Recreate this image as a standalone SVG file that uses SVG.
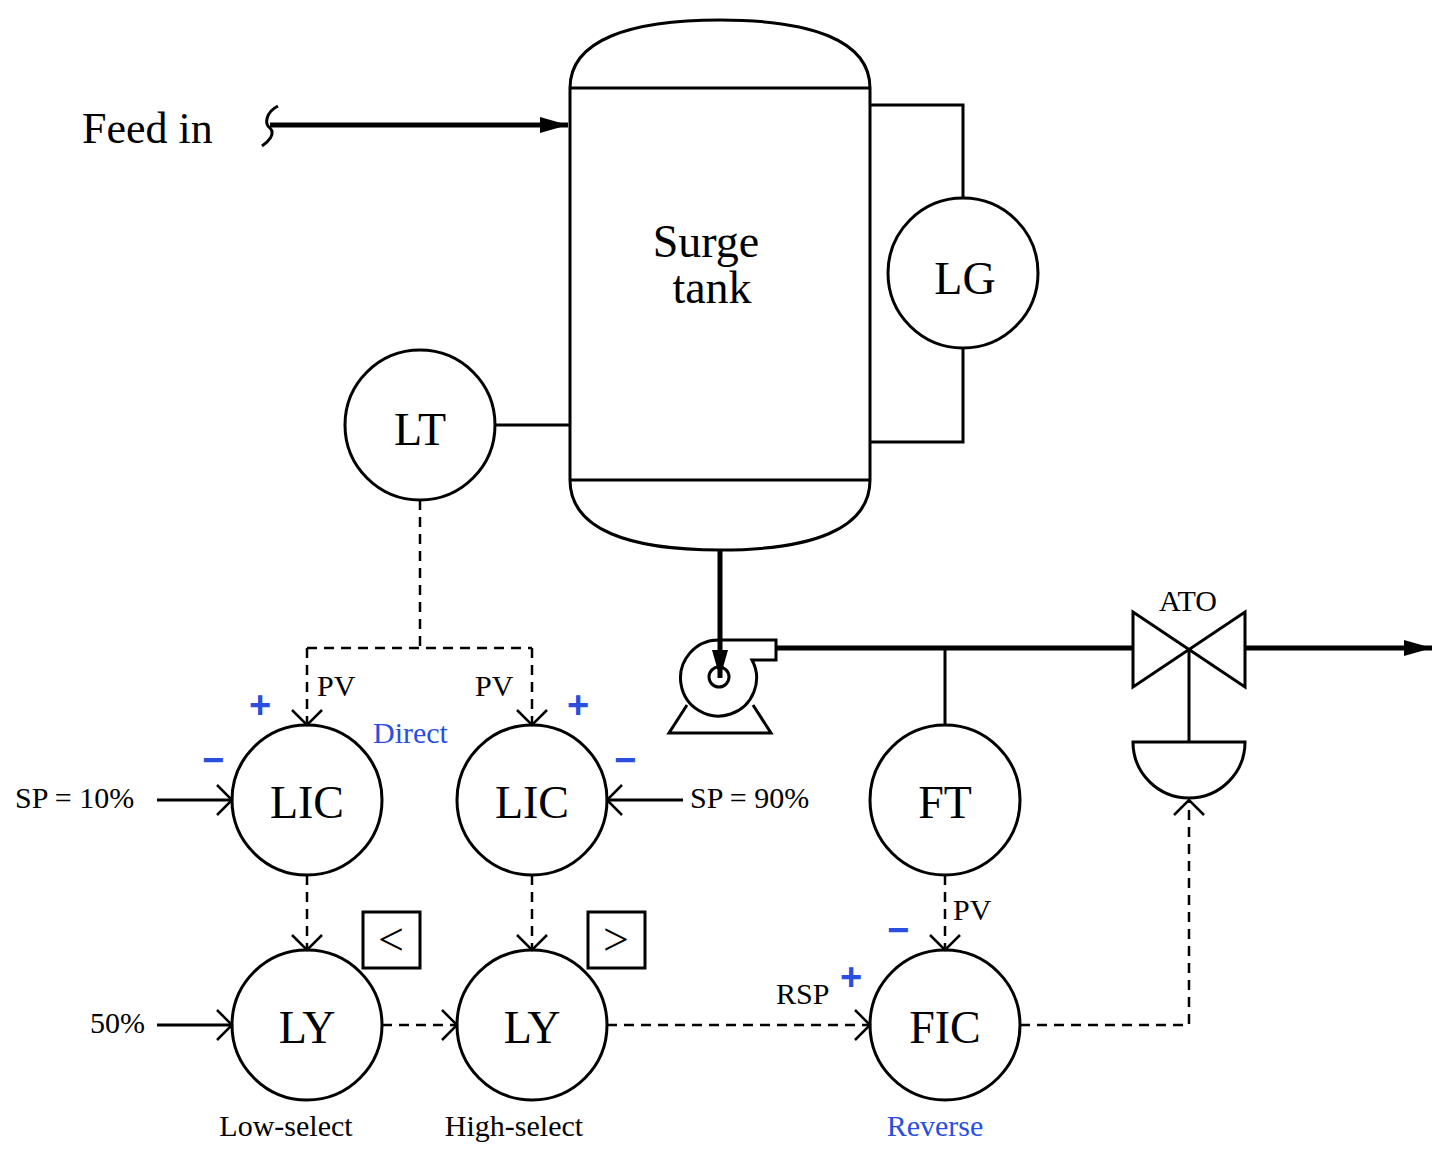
<svg xmlns="http://www.w3.org/2000/svg" width="1446" height="1158" viewBox="0 0 1446 1158">
<style>
text{font-family:"Liberation Serif",serif;fill:#000}
.c{fill:#fff;stroke:#000;stroke-width:3}
.l{fill:none;stroke:#000;stroke-width:3}
.t{fill:none;stroke:#000;stroke-width:5}
.d{fill:none;stroke:#000;stroke-width:2.5;stroke-dasharray:10,7}
.n{font-size:46px;text-anchor:middle}
.s{font-size:30px}
.b{fill:#2a4fe0}
.sg{fill:#2a4fe0;font-family:"Liberation Sans",sans-serif;font-weight:bold;font-size:38px;text-anchor:middle}
</style>
<defs>
<marker id="o" markerUnits="userSpaceOnUse" markerWidth="40" markerHeight="40" refX="20" refY="20" orient="auto" overflow="visible"><path d="M5,5 L20,20 L5,35" fill="none" stroke="#000" stroke-width="2.5"/></marker>
<marker id="f" markerUnits="userSpaceOnUse" markerWidth="40" markerHeight="40" refX="30" refY="20" orient="auto" overflow="visible"><path d="M2,12 L30,20 L2,28 Z" fill="#000"/></marker>
</defs>
<g id="feed"><text x="82" y="143" font-size="44">Feed in</text><path class="l" d="M278,106 C266,112 264,124 270,128 C276,134 268,142 262,146"/></g>
<g id="tank"><path class="c" d="M570,88 C570,40 630,20 720,20 C810,20 870,40 870,88 L870,480 C870,530 810,550 720,550 C630,550 570,530 570,480 Z"/><path class="l" d="M570,88 H870 M570,480 H870"/><text class="n" x="706" y="257">Surge</text><text class="n" x="712" y="303">tank</text></g>
<g id="LG"><circle class="c" cx="963" cy="273" r="75"/><text class="n" x="965" y="294">LG</text></g>
<g id="LT"><circle class="c" cx="420" cy="425" r="75"/><text class="n" x="420" y="445">LT</text></g>
<g id="pump"><path class="c" d="M719,640 H776 V660 H752 A38,38 0 1 1 719,640 Z"/><circle class="c" cx="719" cy="677" r="10"/><path class="l" d="M687,705 L669,733 H771 L753,705"/></g>
<g id="valve"><path class="c" d="M1133,612 L1245,687 V612 L1133,687 Z"/><path class="c" d="M1133,742 H1245 A56,56 0 0 1 1133,742 Z"/><text class="s" x="1188" y="611" text-anchor="middle">ATO</text></g>
<g id="FT"><circle class="c" cx="945" cy="800" r="75"/><text class="n" x="945" y="818">FT</text></g>
<g id="FIC"><circle class="c" cx="945" cy="1025" r="75"/><text class="n" x="945" y="1043">FIC</text><text class="s b" x="935" y="1136" text-anchor="middle" font-size="32">Reverse</text></g>
<g id="LIC1"><circle class="c" cx="307" cy="800" r="75"/><text class="n" x="307" y="818">LIC</text></g>
<g id="LIC2"><circle class="c" cx="532" cy="800" r="75"/><text class="n" x="532" y="818">LIC</text></g>
<g id="LY1"><circle class="c" cx="307" cy="1025" r="75"/><text class="n" x="307" y="1043">LY</text><rect class="c" x="363" y="912" width="57" height="56"/><text class="n" x="391" y="955">&lt;</text><text class="s" x="286" y="1136" text-anchor="middle">Low-select</text></g>
<g id="LY2"><circle class="c" cx="532" cy="1025" r="75"/><text class="n" x="532" y="1043">LY</text><rect class="c" x="588" y="912" width="57" height="56"/><text class="n" x="616" y="955">&gt;</text><text class="s" x="514" y="1136" text-anchor="middle">High-select</text></g>
<g id="connectors">
<path class="t" d="M270,125 H568" marker-end="url(#f)"/>
<path class="l" d="M870,105 H963 V198 M963,348 V442 H870 M495,425 H570"/>
<path class="t" d="M720,550 V678" marker-end="url(#f)"/>
<path class="t" d="M777,648 H1133 M1245,648 H1432" marker-end="url(#f)"/>
<path class="l" d="M945,648 V725 M1189,648 V742"/>
<path class="d" d="M420,500 V648 M307,648 H532"/>
<path class="d" d="M307,648 V725" marker-end="url(#o)"/>
<path class="d" d="M532,648 V725" marker-end="url(#o)"/>
<path class="d" d="M307,875 V950" marker-end="url(#o)"/>
<path class="d" d="M532,875 V950" marker-end="url(#o)"/>
<path class="d" d="M382,1025 H457" marker-end="url(#o)"/>
<path class="d" d="M607,1025 H870" marker-end="url(#o)"/>
<path class="d" d="M945,875 V950" marker-end="url(#o)"/>
<path class="d" d="M1020,1025 H1189 V800" marker-end="url(#o)"/>
<path class="l" d="M157,800 H232" marker-end="url(#o)"/>
<path class="l" d="M683,800 H607" marker-end="url(#o)"/>
<path class="l" d="M157,1025 H232" marker-end="url(#o)"/>
</g>
<g id="labels">
<text class="s" x="317" y="696">PV</text><text class="s" x="475" y="696">PV</text><text class="s" x="953" y="920">PV</text><text class="s" x="776" y="1004">RSP</text>
<text class="s" x="15" y="808">SP = 10%</text><text class="s" x="690" y="808">SP = 90%</text><text class="s" x="90" y="1033">50%</text>
<text class="s b" x="373" y="743" font-size="32">Direct</text>
<text class="sg" x="260" y="718">+</text><text class="sg" x="578" y="718">+</text><text class="sg" x="851" y="990">+</text>
<text class="sg" x="213" y="773">−</text><text class="sg" x="625" y="773">−</text><text class="sg" x="898" y="943">−</text>
</g>
</svg>
